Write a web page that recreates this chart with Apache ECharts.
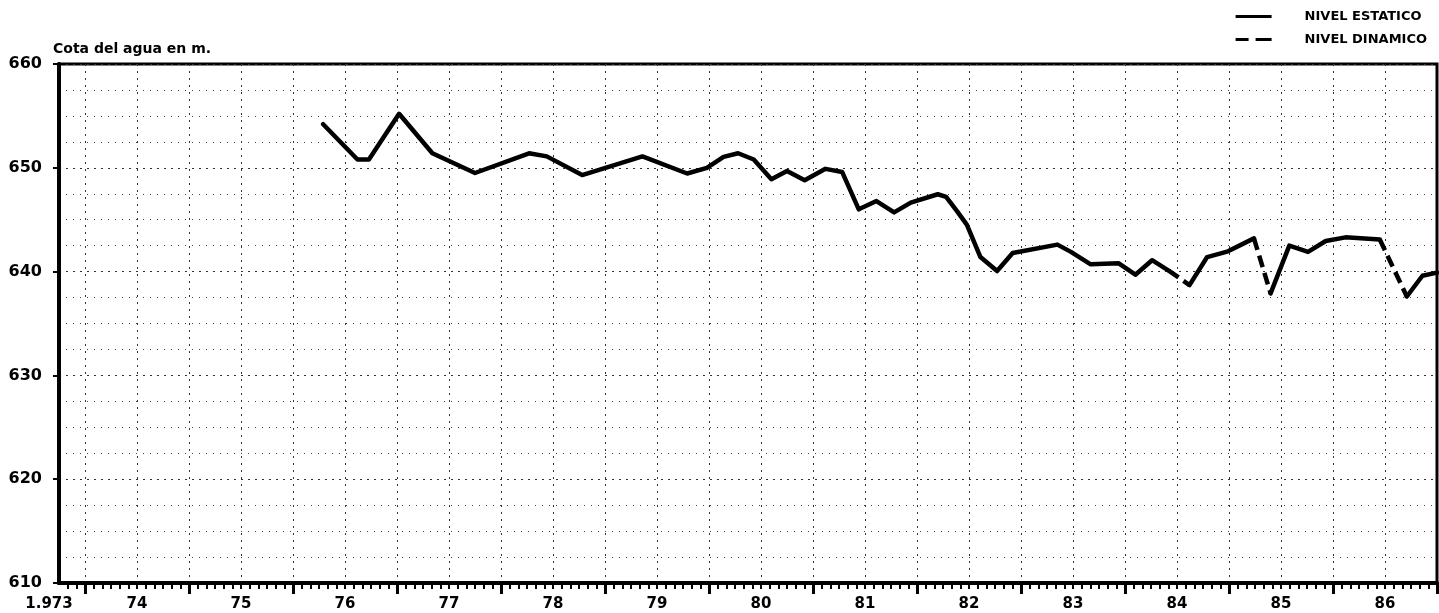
<!DOCTYPE html>
<html>
<head>
<meta charset="utf-8">
<script src="https://cdn.jsdelivr.net/npm/echarts@6/dist/echarts.min.js"></script>
<style>
html,body{margin:0;padding:0;background:#fff;}
#chart{width:1439px;height:613px;}
</style>
</head>
<body>
<div id="chart"></div>
<script>
// ---- data (decimal years, water level in m) ----
const fechas = [1976.29, 1976.62, 1976.73, 1977.02, 1977.34, 1977.75, 1978.27, 1978.44, 1978.78, 1979.36,
  1979.79, 1979.98, 1980.14, 1980.28, 1980.43, 1980.60, 1980.75, 1980.92, 1981.12, 1981.28,
  1981.44, 1981.61, 1981.78, 1981.94, 1982.20, 1982.28, 1982.39, 1982.48, 1982.61, 1982.77,
  1982.92, 1983.35, 1983.48, 1983.67, 1983.94, 1984.10, 1984.26, 1984.42, 1984.62, 1984.79,
  1984.99, 1985.24, 1985.40, 1985.58, 1985.76, 1985.93, 1986.12, 1986.45, 1986.71, 1986.86, 1987.0];
const nivel = [654.2, 650.8, 650.8, 655.2, 651.4, 649.5, 651.4, 651.1, 649.3, 651.1,
  649.45, 650.0, 651.05, 651.4, 650.8, 648.9, 649.7, 648.8, 649.9, 649.6,
  646.0, 646.8, 645.7, 646.65, 647.45, 647.2, 645.75, 644.5, 641.4, 640.05,
  641.8, 642.6, 641.9, 640.7, 640.8, 639.7, 641.1, 640.1, 638.7, 641.4,
  641.95, 643.2, 637.9, 642.5, 641.9, 642.95, 643.3, 643.1, 637.6, 639.6, 639.9];
// start index of each segment drawn as "nivel dinamico" (dashed)
const tramosDinamicos = [37, 41, 47];
const nombresSeries = ['NIVEL ESTATICO', 'NIVEL DINAMICO'];
const tituloEje = 'Cota del agua en m.';
const etiquetasAnio = ['1.973', '74', '75', '76', '77', '78', '79', '80', '81', '82', '83', '84', '85', '86'];
const posEtiquetas = [1973.75, 1974.5, 1975.5, 1976.5, 1977.5, 1978.5, 1979.5, 1980.5, 1981.5, 1982.5, 1983.5, 1984.5, 1985.5, 1986.5];
const anios = [1974, 1975, 1976, 1977, 1978, 1979, 1980, 1981, 1982, 1983, 1984, 1985, 1986, 1987];
const X_MIN = 1973.75, X_MAX = 1987;

// ---- build series data ----
const estatico = [], dinamico = [];
for (let i = 0; i < fechas.length; i++) {
  estatico.push([fechas[i], nivel[i]]);
  if (tramosDinamicos.includes(i)) {
    estatico.push([(fechas[i] + fechas[i + 1]) / 2, null]);
    dinamico.push([fechas[i], nivel[i]], [fechas[i + 1], nivel[i + 1]], [fechas[i + 1] + 0.01, null]);
  }
}
const meses = [];
for (let k = 1; X_MIN + k / 12 < X_MAX - 1e-6; k++) meses.push(X_MIN + k / 12);
const semestres = [];
for (let v = 1974; v <= X_MAX - 0.5 + 1e-6; v += 0.5) semestres.push(v);

const FONT = 'DejaVu Sans';
const mapaEtiquetas = {};
posEtiquetas.forEach((p, i) => mapaEtiquetas[p.toFixed(2)] = etiquetasAnio[i]);

const chart = echarts.init(document.getElementById('chart'));
const gridLine = { show: true, lineStyle: { color: '#333', width: 1, type: [2, 5] } };
chart.setOption({
  animation: false,
  backgroundColor: '#fff',
  title: {
    text: tituloEje, left: 53, top: 42, padding: 0,
    textStyle: { fontFamily: FONT, fontSize: 14, fontWeight: 'bold', color: '#000' }
  },
  legend: {
    orient: 'vertical', right: 7, top: 5, itemWidth: 36, itemHeight: 3, itemGap: 10,
    data: [
      { name: nombresSeries[0], icon: 'path://M0,0H36V3H0Z' },
      { name: nombresSeries[1], icon: 'path://M0,0H13V3H0Z M20,0H36V3H20Z' }
    ],
    itemStyle: { color: '#000' },
    textStyle: { fontFamily: FONT, fontSize: 13, fontWeight: 'bold', color: '#000', padding: [0, 0, 0, 28] }
  },
  grid: { left: 59, right: 2, top: 64, bottom: 30, show: true, borderColor: '#000', borderWidth: 3, containLabel: false },
  xAxis: [
    {
      type: 'value', min: X_MIN, max: X_MAX, position: 'bottom',
      axisLine: { show: true, lineStyle: { color: '#000', width: 4 } },
      axisTick: { show: true, customValues: anios, length: 11, lineStyle: { color: '#000', width: 3 } },
      axisLabel: {
        customValues: posEtiquetas, margin: 14, color: '#000',
        fontFamily: FONT, fontSize: 15, fontWeight: 'bold',
        formatter: v => {
          const t = mapaEtiquetas[v.toFixed(2)] || '';
          return v < 1974 ? '{a|' + t + '}' : t;
        },
        rich: { a: { fontFamily: FONT, fontSize: 15, fontWeight: 'bold', color: '#000', padding: [0, 20, 0, 0] } }
      },
      splitLine: { show: false }
    },
    {
      type: 'value', min: X_MIN, max: X_MAX, position: 'bottom',
      axisLine: { show: false },
      axisTick: { show: true, customValues: meses, length: 6, lineStyle: { color: '#000', width: 2 } },
      axisLabel: { show: false }, splitLine: { show: false }
    },
    {
      type: 'value', min: X_MIN, max: X_MAX, position: 'bottom',
      axisLine: { show: false },
      axisTick: { show: false, customValues: semestres },
      axisLabel: { show: false },
      splitLine: gridLine
    }
  ],
  yAxis: {
    type: 'value', min: 610, max: 660, interval: 10,
    axisLine: { show: true, lineStyle: { color: '#000', width: 4 } },
    axisTick: { show: true, length: 6, lineStyle: { color: '#000', width: 2 } },
    axisLabel: { margin: 17, color: '#000', fontFamily: FONT, fontSize: 16, fontWeight: 'bold' },
    splitLine: gridLine,
    minorTick: { show: false, splitNumber: 4 },
    minorSplitLine: { show: true, lineStyle: { color: '#444', width: 1, type: [1, 6] } }
  },
  series: [
    {
      name: nombresSeries[0], type: 'line', xAxisIndex: 0, data: estatico,
      showSymbol: false, symbol: 'none', connectNulls: false,
      lineStyle: { color: '#000', width: 4.5, join: 'round', cap: 'round' },
      itemStyle: { color: '#000' }, z: 5
    },
    {
      name: nombresSeries[1], type: 'line', xAxisIndex: 0, data: dinamico,
      showSymbol: false, symbol: 'none', connectNulls: false,
      lineStyle: { color: '#000', width: 4.5, type: [12, 6] },
      itemStyle: { color: '#000' }, z: 5
    }
  ]
});
</script>
</body>
</html>
